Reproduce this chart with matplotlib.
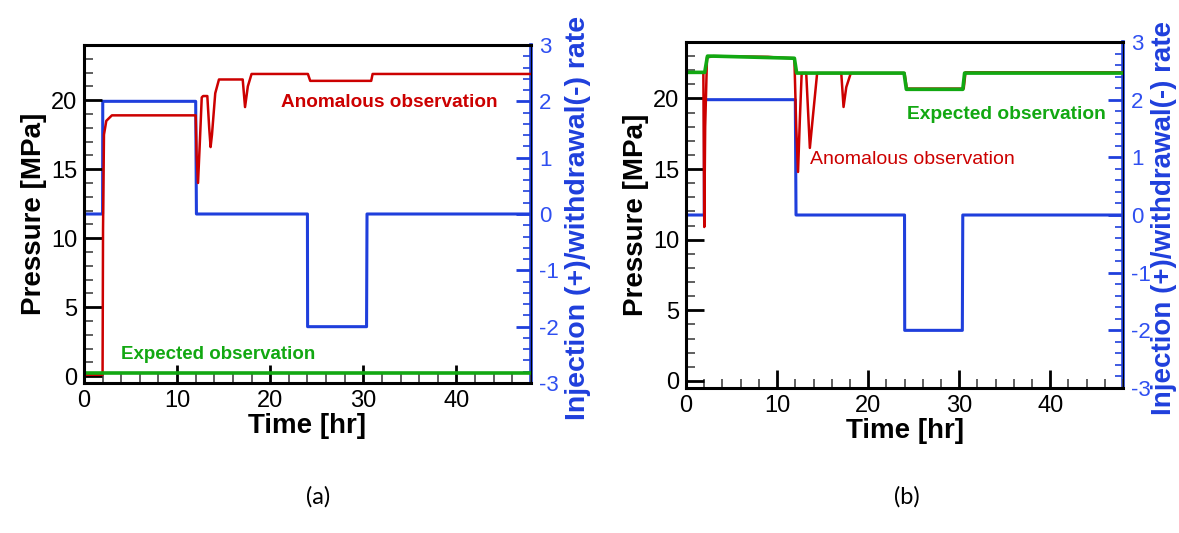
import matplotlib

matplotlib.use("Agg")
import matplotlib.pyplot as plt
from matplotlib.ticker import MultipleLocator

plt.rcParams["font.family"] = ["Liberation Sans", "DejaVu Sans"]
plt.rcParams["axes.unicode_minus"] = False

BLUE = "#1f3fdc"
BLUE_TXT = "#2f4ff0"
RED = "#cc0000"
GREEN = "#12a812"

# injection/withdrawal rate (same schedule in both panels)
rate_t = [0, 2.0, 2.02, 12.0, 12.08, 24.0, 24.02, 30.35, 30.4, 48]
rate_v = [0, 0, 2, 2, 0, 0, -2, -2, 0, 0]

# panel (a)
a_red_t = [0, 2.0, 2.05, 2.15, 2.4, 3.0, 12.0, 12.1, 12.25, 12.45, 12.65, 12.8, 13.25, 13.45,
           13.6, 13.75, 14.1, 14.5, 17.05, 17.3, 17.6, 18.0, 24.05, 24.3, 30.85, 31.0, 48]
a_red_p = [0.1, 0.1, 10.7, 17.5, 18.5, 18.9, 18.9, 16.0, 14.0, 17.0, 20.2, 20.3, 20.3, 18.0,
           16.6, 17.5, 20.5, 21.5, 21.5, 19.5, 21.0, 21.9, 21.9, 21.4, 21.4, 21.9, 21.9]
a_green_t = [0, 48]
a_green_p = [0.2, 0.2]

# panel (b)
b_red_t = [0, 1.9, 2.0, 2.1, 2.3, 3.0, 9.0, 10.0, 11.9, 12.1, 12.3, 12.5, 12.7, 13.2, 13.6,
           13.9, 14.4, 17.05, 17.3, 17.6, 18.1, 24.0, 24.25, 30.5, 30.7, 48]
b_red_p = [21.85, 21.85, 10.9, 18.0, 22.9, 23.0, 22.95, 22.9, 22.85, 18.0, 14.8, 18.5, 21.8,
           21.8, 16.5, 18.5, 21.8, 21.8, 19.4, 20.8, 21.8, 21.8, 20.7, 20.7, 21.85, 21.85]
b_green_t = [0, 2.05, 2.35, 3.0, 11.9, 12.15, 23.95, 24.2, 30.4, 30.6, 48]
b_green_p = [21.85, 21.85, 23.0, 23.0, 22.85, 21.8, 21.8, 20.65, 20.65, 21.8, 21.8]

RATE_LABEL = "Injection (+)/withdrawal(-) rate"


def style_axes(ax, ax2):
    ax.set_xlim(0, 48)
    ax.set_ylim(-0.5, 24)
    ax2.set_ylim(-3, 3)
    ax.xaxis.set_major_locator(MultipleLocator(10))
    ax.xaxis.set_minor_locator(MultipleLocator(2))
    ax.yaxis.set_major_locator(MultipleLocator(5))
    ax.yaxis.set_minor_locator(MultipleLocator(1))
    ax2.yaxis.set_major_locator(MultipleLocator(1))
    ax2.yaxis.set_minor_locator(MultipleLocator(0.2))
    ax.tick_params(which="both", direction="in", top=False, right=False, labelsize=17, width=2)
    ax.tick_params(which="major", length=13, pad=5)
    ax.tick_params(which="minor", length=6.5, width=1.2, color="#444444")
    ax2.tick_params(which="both", direction="in", colors=BLUE, labelcolor=BLUE_TXT,
                    labelsize=16, width=2)
    ax2.tick_params(which="major", length=11, pad=6)
    ax2.tick_params(which="minor", length=6, width=1.2)
    for s in ["left", "bottom", "top"]:
        ax.spines[s].set_linewidth(2.2)
    ax2.spines["right"].set_color(BLUE)
    ax2.spines["right"].set_linewidth(2.6)
    for s in ["left", "bottom", "top"]:
        ax2.spines[s].set_visible(False)
    ax.set_xlabel("Time [hr]", fontsize=20, fontweight="bold", labelpad=1)
    ax.set_ylabel("Pressure [MPa]", fontsize=20, fontweight="bold", labelpad=3)


fig = plt.figure(figsize=(11.79, 5.33), dpi=100)

ax_a = fig.add_axes([0.0712, 0.2814, 0.3791, 0.6342])
ax_a2 = ax_a.twinx()
ax_a.set_zorder(ax_a2.get_zorder() + 1)
ax_a.patch.set_visible(False)
ax_a2.plot(rate_t, rate_v, color=BLUE, lw=2.2)
ax_a.plot(a_red_t, a_red_p, color=RED, lw=1.8)
ax_a.plot(a_green_t, a_green_p, color=GREEN, lw=2.6)
ax_a.text(21.2, 19.8, "Anomalous observation", color=RED, fontsize=13.7, fontweight="bold",
          va="center", ha="left")
ax_a.text(4.0, 1.6, "Expected observation", color=GREEN, fontsize=13.5, fontweight="bold",
          va="center", ha="left")
style_axes(ax_a, ax_a2)

ax_b = fig.add_axes([0.5819, 0.2720, 0.3706, 0.6492])
ax_b2 = ax_b.twinx()
ax_b.set_zorder(ax_b2.get_zorder() + 1)
ax_b.patch.set_visible(False)
ax_b2.plot(rate_t, rate_v, color=BLUE, lw=2.2)
ax_b.plot(b_red_t, b_red_p, color=RED, lw=1.8)
ax_b.plot(b_green_t, b_green_p, color=GREEN, lw=2.6)
ax_b.text(24.3, 18.9, "Expected observation", color=GREEN, fontsize=13.8, fontweight="bold",
          va="center", ha="left")
ax_b.text(13.6, 15.7, "Anomalous observation", color=RED, fontsize=14,
          va="center", ha="left")
style_axes(ax_b, ax_b2)

# right-hand rate labels, placed where the reference has them
fig.text(578 / 1179, 1 - 218 / 533, RATE_LABEL, rotation=90, fontsize=20.5, fontweight="bold",
         color=BLUE, ha="center", va="center")
fig.text(1164 / 1179, 1 - 218 / 533, RATE_LABEL, rotation=90, fontsize=20,
         fontweight="bold", color=BLUE, ha="center", va="center")

fig.text(318 / 1179, 1 - 497 / 533, "(a)", fontsize=17, family=["Lato", "DejaVu Sans"],
         ha="center", va="center")
fig.text(907 / 1179, 1 - 497 / 533, "(b)", fontsize=17, family=["Lato", "DejaVu Sans"],
         ha="center", va="center")

fig.savefig("out.png", dpi=100)
